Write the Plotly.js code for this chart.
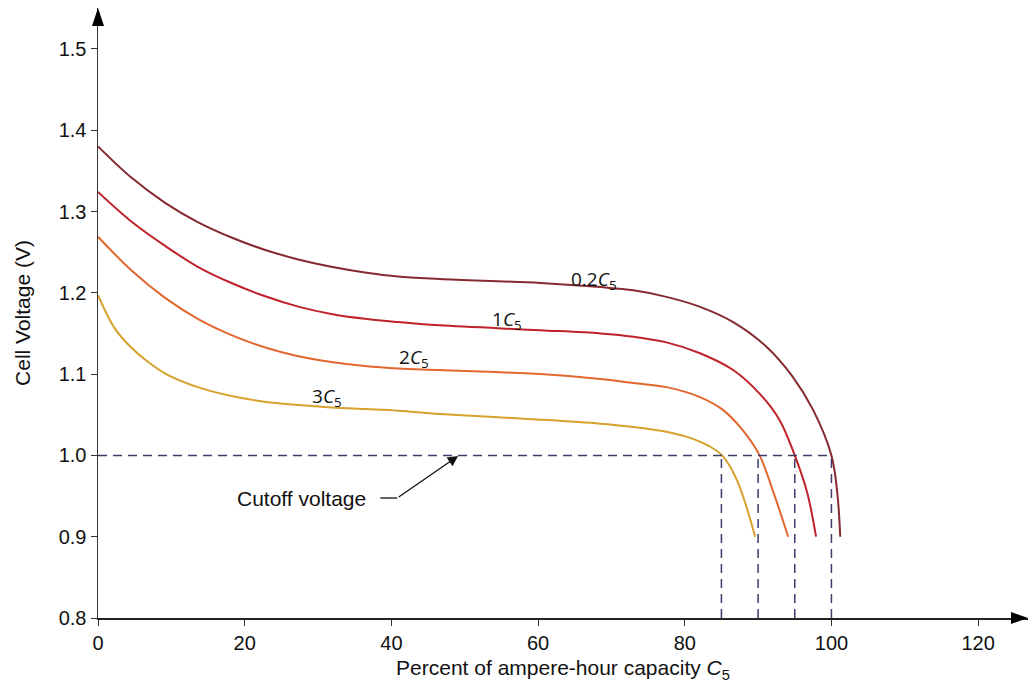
<!DOCTYPE html>
<html>
<head>
<meta charset="utf-8">
<script src="https://cdn.plot.ly/plotly-3.0.1.min.js"></script>
<style>html,body{margin:0;padding:0;background:#fff;}#chart{width:1035px;height:687px;}</style>
</head>
<body>
<div id="chart"></div>
<script>
// ---- data ----
const seriesNames = ['0.2C5', '1C5', '2C5', '3C5'];
const seriesLabels = ['0.2<i>C</i><sub>5</sub>', '1<i>C</i><sub>5</sub>', '2<i>C</i><sub>5</sub>', '3<i>C</i><sub>5</sub>'];

const cap02 = [0, 4.5, 9.1, 13.6, 18.2, 22.7, 27.3, 31.8, 36.4, 40.9, 46.6, 60.3, 68.5, 73.0, 77.5, 82.0, 86.6, 91.1, 94.7, 97.5, 100.0, 100.8, 101.2];
const v02   = [1.380, 1.342, 1.311, 1.287, 1.268, 1.253, 1.241, 1.232, 1.225, 1.220, 1.217, 1.212, 1.207, 1.203, 1.195, 1.183, 1.164, 1.134, 1.097, 1.056, 1.0, 0.954, 0.9];

const cap1 = [0, 4.5, 9.1, 13.6, 18.2, 22.7, 27.3, 31.8, 36.4, 40.9, 46.6, 60.3, 68.5, 73.0, 77.5, 82.0, 86.6, 90.2, 92.9, 95.0, 96.7, 97.9];
const v1   = [1.324, 1.288, 1.258, 1.232, 1.212, 1.196, 1.183, 1.174, 1.168, 1.164, 1.160, 1.154, 1.150, 1.146, 1.139, 1.126, 1.105, 1.076, 1.044, 1.0, 0.954, 0.9];

const cap2 = [0, 4.5, 9.1, 13.6, 18.2, 22.7, 27.3, 31.8, 36.4, 40.9, 46.6, 60.3, 68.5, 73.0, 77.5, 82.0, 85.2, 87.9, 90.2, 92.0, 94.1];
const v2   = [1.269, 1.228, 1.194, 1.168, 1.148, 1.133, 1.122, 1.115, 1.110, 1.107, 1.105, 1.100, 1.094, 1.089, 1.084, 1.072, 1.056, 1.031, 1.0, 0.957, 0.9];

const cap3 = [0, 2.3, 4.5, 6.4, 9.1, 13.6, 18.2, 22.7, 27.3, 31.8, 36.4, 40.9, 46.6, 60.3, 68.5, 73.0, 77.5, 81.2, 83.4, 85.1, 87.1, 89.6];
const v3   = [1.197, 1.156, 1.133, 1.118, 1.101, 1.084, 1.073, 1.066, 1.062, 1.059, 1.057, 1.055, 1.051, 1.044, 1.039, 1.035, 1.029, 1.020, 1.011, 1.0, 0.970, 0.9];

const cutoffVoltage = 1.0;
const cutoffCaps = [85, 90, 95, 100];
const axisMinV = 0.8;

const xTicks = [0, 20, 40, 60, 80, 100, 120];
const yTicks = [0.8, 0.9, 1.0, 1.1, 1.2, 1.3, 1.4, 1.5];
const yTickText = ['0.8', '0.9', '1.0', '1.1', '1.2', '1.3', '1.4', '1.5'];

// label anchor positions (text placement)
const labelPos = [[67.6, 1.2157], [55.8, 1.1665], [43.1, 1.1198], [31.2, 1.0718]];

// ---- styling ----
const colors = ['#852a30', '#bf2229', '#e2672f', '#d6a12c'];
const capsAll = [cap02, cap1, cap2, cap3];
const volsAll = [v02, v1, v2, v3];
const FONT = 'Liberation Sans, Arial, sans-serif';

const traces = capsAll.map((c, i) => ({
  type: 'scatter', mode: 'lines', name: seriesNames[i],
  x: c, y: volsAll[i],
  line: {color: colors[i], width: 2, shape: 'spline', smoothing: 1},
  hoverinfo: 'x+y', showlegend: false, cliponaxis: false
}));

// cutoff dashed lines built from the cutoff arrays
const dx = [0, cutoffCaps[cutoffCaps.length - 1]];
const dy = [cutoffVoltage, cutoffVoltage];
cutoffCaps.forEach(c => { dx.push(null, c, c); dy.push(null, axisMinV, cutoffVoltage); });
traces.push({
  type: 'scatter', mode: 'lines', x: dx, y: dy,
  line: {color: '#3b3d6b', width: 1.5, dash: '9px,6px'},
  hoverinfo: 'skip', showlegend: false, cliponaxis: false
});

const annotations = seriesLabels.map((t, i) => ({
  x: labelPos[i][0], y: labelPos[i][1], xref: 'x', yref: 'y',
  text: t, showarrow: false, yanchor: 'middle', xanchor: 'center',
  font: {family: 'Open Sans, Noto Sans, sans-serif', size: 19, color: '#111'}
}));
annotations.push({
  x: 27.8, y: 0.9476, xref: 'x', yref: 'y', text: 'Cutoff voltage', showarrow: false,
  font: {family: FONT, size: 21, color: '#111'}
});
annotations.push({
  x: 49.1, y: 0.9993, xref: 'x', yref: 'y', text: '',
  showarrow: true, axref: 'x', ayref: 'y', ax: 40.8, ay: 0.9476,
  arrowhead: 2, arrowsize: 1.6, arrowwidth: 1.3, arrowcolor: '#111', standoff: 0
});

const shapes = [
  {type: 'line', xref: 'x', yref: 'y', x0: 38.5, x1: 40.8, y0: 0.9476, y1: 0.9476,
   line: {color: '#111', width: 1.3}},
  // axis arrowheads
  {type: 'path', xref: 'paper', yref: 'paper', xsizemode: 'pixel', ysizemode: 'pixel',
   xanchor: 1, yanchor: 0, path: 'M -17,6 L 0,0 L -17,-6 Z',
   fillcolor: '#000', line: {width: 0}},
  {type: 'path', xref: 'paper', yref: 'paper', xsizemode: 'pixel', ysizemode: 'pixel',
   xanchor: 0, yanchor: 1, path: 'M -6,-18 L 0,0 L 6,-18 Z',
   fillcolor: '#000', line: {width: 0}}
];

const layout = {
  width: 1035, height: 687,
  margin: {l: 98, r: 7, t: 8, b: 69},
  paper_bgcolor: '#fff', plot_bgcolor: '#fff',
  font: {family: FONT, size: 20, color: '#111'},
  xaxis: {
    range: [0, 126.8], tickvals: xTicks, ticks: 'outside', ticklen: 6, tickcolor: '#333',
    showline: true, linecolor: '#222', linewidth: 1.5, showgrid: false, zeroline: false,
    tickfont: {family: FONT, size: 20, color: '#111'},
    title: {text: 'Percent of ampere-hour capacity <i>C</i><sub>5</sub>', font: {family: FONT, size: 21, color: '#111'}, standoff: 8}
  },
  yaxis: {
    range: [0.8, 1.5503], tickvals: yTicks, ticktext: yTickText, ticks: 'outside', ticklen: 6, tickcolor: '#333',
    showline: true, linecolor: '#333', linewidth: 1.5, showgrid: false, zeroline: false,
    tickfont: {family: FONT, size: 20, color: '#111'},
    title: {text: 'Cell Voltage (V)', font: {family: FONT, size: 21, color: '#111'}, standoff: 22}
  },
  annotations: annotations,
  shapes: shapes,
  showlegend: false
};

Plotly.newPlot('chart', traces, layout, {displayModeBar: false, staticPlot: true});
</script>
</body>
</html>
